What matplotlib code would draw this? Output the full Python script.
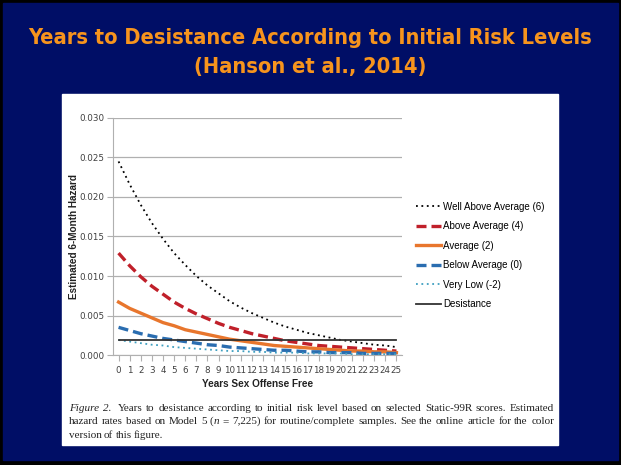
import matplotlib
matplotlib.use('Agg')
import matplotlib.pyplot as plt
from matplotlib.patches import Rectangle

# Estimated 6-month hazard by years offence free, per Static-99R level
years = list(range(26))
well_above = [.0245, .0216, .0190, .0167, .0147, .0129, .0114, .0100, .0088, .0078,
              .0068, .0060, .0053, .0047, .0041, .0036, .0032, .0028, .0025, .0022,
              .0019, .0017, .0015, .0013, .0012, .0010]
above = [.0129, .0113, .0099, .0087, .0077, .0067, .0059, .0052, .0046, .0040,
         .0035, .0031, .0027, .0024, .0021, .0018, .0016, .0014, .0012, .0011,
         .0010, .0009, .0008, .0007, .0006, .0005]
average = [.0067, .0059, .0053, .0047, .0041, .0037, .0032, .0029, .0026, .0023,
           .0020, .0018, .0016, .0014, .0012, .0011, .0010, .0009, .0008, .0007,
           .0006, .0005, .0005, .0004, .0004, .0003]
below = [.0035, .0031, .0027, .0024, .0021, .0019, .0017, .0015, .0013, .0012,
         .0010, .0009, .0008, .0007, .0006, .0006, .0005, .0004, .0004, .0003,
         .0003, .0003, .0002, .0002, .0002, .0002]
very_low = [.0019, .0017, .0015, .0013, .0012, .0010, .0009, .0008, .0007, .0006,
            .0005, .0005, .0004, .0004, .0003, .0003, .0003, .0002, .0002, .0002,
            .0002, .0001, .0001, .0001, .0001, .0001]
desistance = [.0019] * 26

labels = ['Well Above Average (6)', 'Above Average (4)', 'Average (2)',
          'Below Average (0)', 'Very Low (-2)', 'Desistance']
yticks = [0.0, 0.005, 0.010, 0.015, 0.020, 0.025, 0.030]

NAVY = '#000e66'
ORANGE = '#f7941d'
W, H = 621, 465

fig = plt.figure(figsize=(6.21, 4.65), dpi=100)
fig.patch.set_facecolor('black')
renderer = fig.canvas.get_renderer()

# slide background and white figure panel
fig.patches.append(Rectangle((3 / W, 5 / H), 615 / W, 457 / H,
                             transform=fig.transFigure, color=NAVY, zorder=0))
fig.patches.append(Rectangle((62 / W, 20 / H), 496 / W, 351 / H,
                             transform=fig.transFigure, color='white', zorder=1))

# title, sized so the first line spans the slide width
t1 = fig.text(0.5, 1 - 38 / H, 'Years to Desistance According to Initial Risk Levels',
              ha='center', va='center', color=ORANGE, fontsize=16, fontweight='bold',
              fontstretch='condensed', family='DejaVu Sans')
w = t1.get_window_extent(renderer).width
size = 16 * 565 / w
t1.set_fontsize(size)
fig.text(0.5, 1 - 67 / H, '(Hanson et al., 2014)',
         ha='center', va='center', color=ORANGE, fontsize=size, fontweight='bold',
         fontstretch='condensed', family='DejaVu Sans')

ax = fig.add_axes([113 / W, 110 / H, 289 / W, 237 / H])
ax.set_zorder(2)
ax.patch.set_alpha(0)

series = [well_above, above, average, below, very_low, desistance]
styles = [dict(color='black', ls=(0, (1, 2)), lw=1.3),
          dict(color='#c0202a', ls=(0, (3, 1.5)), lw=2.4),
          dict(color='#e8762d', ls='-', lw=2.4),
          dict(color='#2a6db0', ls=(0, (3, 1.5)), lw=2.4),
          dict(color='#3f9fc0', ls=(0, (1, 2)), lw=1.3),
          dict(color='#333333', ls='-', lw=1.3)]
for vals, lab, st in zip(series, labels, styles):
    ax.plot(years, vals, label=lab, **st)

ax.set_xlim(-0.5, 25.5)
ax.set_ylim(0, 0.030)
ax.set_yticks(yticks)
ax.set_yticklabels(['%.3f' % v for v in yticks])
ax.set_xticks(years)
ax.yaxis.grid(True, color='#b0b0b0', lw=0.9)
ax.set_axisbelow(True)
for s in ['top', 'right']:
    ax.spines[s].set_visible(False)
for s in ['left', 'bottom']:
    ax.spines[s].set_color('#b0b0b0')
ax.tick_params(axis='both', colors='#b0b0b0', length=4, labelsize=6.3,
               labelcolor='#404040', pad=2)
ax.tick_params(axis='x', pad=4)
ax.set_ylabel('Estimated 6-Month Hazard', fontsize=7.2, fontweight='bold',
              family='Liberation Sans', color='#222222', labelpad=0.5)
ax.set_xlabel('Years Sex Offense Free', fontsize=7.2, fontweight='bold',
              family='Liberation Sans', color='#222222', labelpad=3)

fig.legend(loc='upper left', bbox_to_anchor=(407 / W, 1 - 193 / H),
           frameon=False, prop={'family': 'Liberation Sans', 'size': 7},
           handlelength=2.6, handletextpad=0.2, labelspacing=0.98)

# caption: justified lines built word by word, (text, italic) pieces
caption = [
    [('Figure', True), ('2.', True), ('', False), ('Years', False), ('to', False),
     ('desistance', False), ('according', False), ('to', False), ('initial', False),
     ('risk', False), ('level', False), ('based', False), ('on', False),
     ('selected', False), ('Static-99R', False), ('scores.', False),
     ('Estimated', False)],
    [('hazard', False), ('rates', False), ('based', False), ('on', False),
     ('Model', False), ('5', False), ('(', False), ('n', True), ('=', False),
     ('7,225)', False), ('for', False), ('routine/complete', False),
     ('samples.', False), ('See', False), ('the', False), ('online', False),
     ('article', False), ('for', False), ('the', False), ('color', False)],
    [('version', False), ('of', False), ('this', False), ('figure.', False)],
]
x0, x1 = 69, 554
for i, words in enumerate(caption):
    y = 1 - (408 + 13.5 * i) / H
    items = []
    for word, it in words:
        t = fig.text(0, y, word, ha='left', va='center', fontsize=8.0,
                     family='Liberation Serif', style='italic' if it else 'normal',
                     color='#222222', zorder=3)
        items.append(t)
    widths = [t.get_window_extent(renderer).width if t.get_text() else 0 for t in items]
    # "(n" is written without a gap
    gaps = [0.0 if words[k][0] == '(' else 1.0 for k in range(len(words) - 1)]
    if i < len(caption) - 1:
        space = (x1 - x0 - sum(widths)) / sum(gaps)
    else:
        space = 2.2
    x = x0
    for k, t in enumerate(items):
        t.set_x(x / W)
        x += widths[k]
        if k < len(gaps):
            x += space * gaps[k]

fig.savefig('out.png', dpi=100, facecolor=fig.get_facecolor())
